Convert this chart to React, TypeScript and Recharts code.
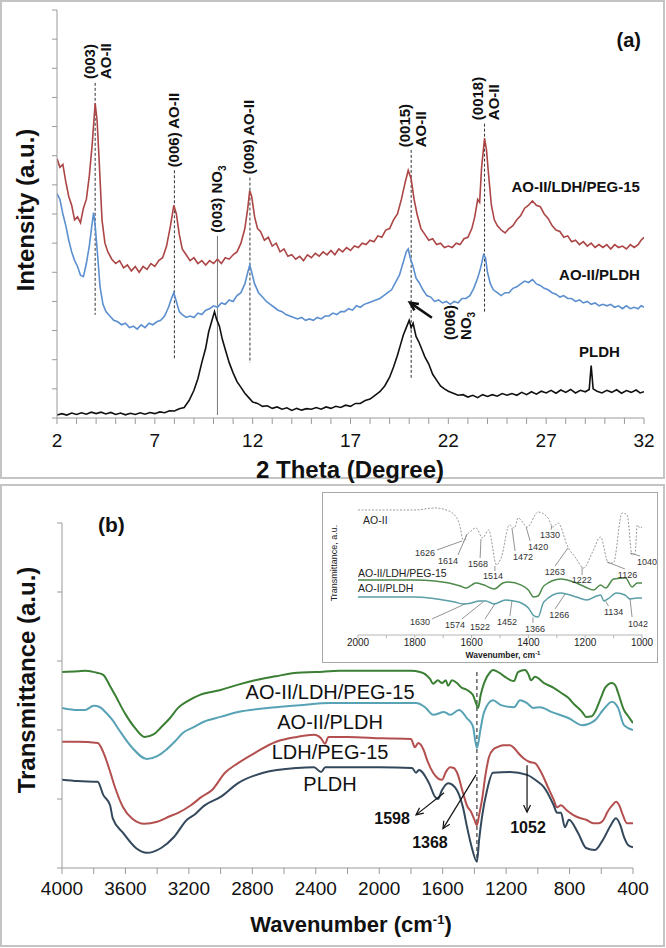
import React from 'react';
import { LineChart, Line, XAxis, YAxis, ReferenceLine, ReferenceDot } from 'recharts';

type Pt = [number, number];

const FONT = '"Liberation Sans", Arial, Helvetica, sans-serif';

// ---------- (a) XRD: 2θ (deg) vs intensity (a.u., axis 0..14) ----------
const xrdTicks = [2, 3, 4, 5, 6, 7, 8, 9, 10, 11, 12, 13, 14, 15, 16, 17, 18, 19, 20, 21, 22, 23, 24, 25, 26, 27, 28, 29, 30, 31, 32];
const xrdYTicks = [0, 1, 2, 3, 4, 5, 6, 7, 8, 9, 10, 11, 12, 13, 14];

const aoLdhPeg: Pt[] = [
  [2.0, 8.9], [2.15, 8.6], [2.3, 8.7], [2.45, 8.1], [2.6, 7.6], [2.75, 7.3], [2.9, 6.8], [3.05, 6.9], [3.2, 6.7], [3.35, 7.2],
  [3.5, 7.5], [3.65, 8.3], [3.8, 9.4], [3.95, 10.8], [4.05, 10.2], [4.15, 8.9], [4.3, 6.8], [4.45, 6.0], [4.6, 5.7], [4.8, 5.45],
  [5.0, 5.3], [5.2, 5.4], [5.4, 5.15], [5.6, 5.25], [5.8, 5.05], [6.0, 5.2], [6.2, 5.0], [6.4, 5.2], [6.6, 5.1], [6.8, 5.3],
  [7.0, 5.2], [7.2, 5.4], [7.4, 5.5], [7.6, 5.9], [7.8, 6.6], [7.97, 7.3], [8.1, 7.0], [8.25, 6.3], [8.4, 5.8], [8.6, 5.6],
  [8.8, 5.4], [9.0, 5.5], [9.2, 5.3], [9.4, 5.4], [9.6, 5.25], [9.8, 5.4], [10.0, 5.3], [10.2, 5.45], [10.4, 5.3], [10.6, 5.5],
  [10.8, 5.45], [11.0, 5.6], [11.2, 5.7], [11.4, 6.0], [11.6, 6.5], [11.75, 7.2], [11.85, 7.8], [11.95, 7.6], [12.1, 6.9], [12.25, 6.5],
  [12.4, 6.4], [12.6, 6.1], [12.8, 6.2], [13.0, 5.9], [13.2, 6.0], [13.4, 5.7], [13.6, 5.8], [13.8, 5.55], [14.0, 5.6], [14.2, 5.45],
  [14.4, 5.55], [14.6, 5.4], [14.8, 5.6], [15.0, 5.5], [15.2, 5.65], [15.4, 5.55], [15.6, 5.7], [15.8, 5.6], [16.0, 5.75], [16.2, 5.6],
  [16.4, 5.8], [16.6, 5.7], [16.8, 5.85], [17.0, 5.75], [17.2, 5.9], [17.4, 5.85], [17.6, 6.0], [17.8, 5.95], [18.0, 6.1], [18.2, 6.05],
  [18.4, 6.25], [18.6, 6.2], [18.8, 6.45], [19.0, 6.5], [19.2, 6.8], [19.4, 7.0], [19.6, 7.5], [19.8, 8.1], [19.95, 8.5], [20.1, 8.2],
  [20.25, 7.5], [20.4, 7.0], [20.6, 6.5], [20.8, 6.3], [21.0, 6.1], [21.2, 6.15], [21.4, 5.95], [21.6, 6.0], [21.8, 5.85], [22.0, 5.9],
  [22.2, 5.85], [22.4, 6.0], [22.6, 5.95], [22.8, 6.15], [23.0, 6.2], [23.2, 6.5], [23.35, 6.9], [23.5, 7.5], [23.6, 7.4], [23.7, 8.6],
  [23.85, 9.6], [23.95, 9.2], [24.05, 8.4], [24.2, 7.3], [24.35, 6.8], [24.5, 6.6], [24.7, 6.45], [24.9, 6.35], [25.1, 6.5], [25.3, 6.6],
  [25.5, 6.8], [25.7, 6.95], [25.9, 7.2], [26.1, 7.3], [26.3, 7.45], [26.5, 7.3], [26.7, 7.25], [26.9, 7.0], [27.1, 6.85], [27.3, 6.6],
  [27.5, 6.45], [27.7, 6.4], [27.9, 6.2], [28.1, 6.25], [28.3, 6.05], [28.5, 6.1], [28.7, 5.95], [28.9, 6.05], [29.1, 5.9], [29.3, 6.0],
  [29.5, 5.85], [29.7, 5.95], [29.9, 5.85], [30.1, 5.95], [30.3, 5.8], [30.5, 5.95], [30.7, 5.85], [30.9, 5.9], [31.1, 5.8], [31.3, 5.95],
  [31.5, 5.85], [31.7, 5.95], [31.85, 6.1], [32.0, 6.2],
];

const aoPldh: Pt[] = [
  [2.0, 7.7], [2.15, 7.5], [2.3, 7.0], [2.45, 6.6], [2.6, 6.1], [2.75, 5.7], [2.9, 5.4], [3.05, 5.2], [3.2, 4.9], [3.35, 4.85],
  [3.5, 5.3], [3.65, 5.9], [3.8, 6.7], [3.87, 7.05], [3.95, 6.6], [4.05, 5.8], [4.2, 4.5], [4.35, 3.9], [4.5, 3.65], [4.7, 3.5],
  [4.9, 3.35], [5.1, 3.3], [5.3, 3.2], [5.5, 3.25], [5.7, 3.1], [5.9, 3.15], [6.1, 3.05], [6.3, 3.2], [6.5, 3.1], [6.7, 3.25],
  [6.9, 3.2], [7.1, 3.3], [7.3, 3.35], [7.5, 3.5], [7.7, 3.8], [7.85, 4.1], [7.97, 4.3], [8.1, 4.0], [8.25, 3.65], [8.4, 3.55],
  [8.6, 3.45], [8.8, 3.5], [9.0, 3.45], [9.2, 3.6], [9.4, 3.55], [9.6, 3.7], [9.8, 3.75], [10.0, 3.85], [10.2, 3.8], [10.4, 3.95],
  [10.6, 3.9], [10.8, 4.05], [11.0, 4.0], [11.2, 4.2], [11.4, 4.3], [11.6, 4.6], [11.75, 5.0], [11.85, 5.25], [11.95, 5.0], [12.1, 4.6],
  [12.3, 4.3], [12.5, 4.15], [12.7, 4.0], [12.9, 3.9], [13.1, 3.8], [13.3, 3.7], [13.5, 3.65], [13.7, 3.55], [13.9, 3.5], [14.1, 3.45],
  [14.3, 3.4], [14.5, 3.45], [14.7, 3.35], [14.9, 3.4], [15.1, 3.35], [15.3, 3.45], [15.5, 3.4], [15.7, 3.5], [15.9, 3.5], [16.1, 3.6],
  [16.3, 3.55], [16.5, 3.65], [16.7, 3.65], [16.9, 3.75], [17.1, 3.7], [17.3, 3.85], [17.5, 3.8], [17.7, 3.9], [17.9, 3.95], [18.1, 4.0],
  [18.3, 4.05], [18.5, 4.1], [18.7, 4.2], [18.9, 4.3], [19.1, 4.4], [19.3, 4.65], [19.5, 4.9], [19.7, 5.35], [19.85, 5.7], [19.95, 5.8],
  [20.05, 5.5], [20.2, 5.2], [20.35, 4.8], [20.5, 4.65], [20.7, 4.4], [20.9, 4.2], [21.1, 4.15], [21.3, 4.0], [21.5, 4.05], [21.7, 3.95],
  [21.9, 4.0], [22.1, 3.9], [22.3, 4.0], [22.5, 3.95], [22.7, 4.1], [22.9, 4.1], [23.1, 4.2], [23.3, 4.45], [23.5, 4.8], [23.65, 5.15],
  [23.8, 5.6], [23.9, 5.5], [24.0, 5.0], [24.15, 4.6], [24.3, 4.4], [24.5, 4.3], [24.7, 4.2], [24.9, 4.3], [25.1, 4.3], [25.3, 4.45],
  [25.5, 4.5], [25.7, 4.6], [25.9, 4.7], [26.1, 4.65], [26.3, 4.75], [26.5, 4.6], [26.7, 4.55], [26.9, 4.45], [27.1, 4.4], [27.3, 4.3],
  [27.5, 4.25], [27.7, 4.15], [27.9, 4.2], [28.1, 4.1], [28.3, 4.1], [28.5, 4.0], [28.7, 4.05], [28.9, 3.95], [29.1, 4.0], [29.3, 3.9],
  [29.5, 3.95], [29.7, 3.85], [29.9, 3.9], [30.1, 3.85], [30.3, 3.9], [30.5, 3.8], [30.7, 3.85], [30.9, 3.75], [31.1, 3.85], [31.3, 3.75],
  [31.5, 3.8], [31.7, 3.75], [31.85, 3.85], [32.0, 3.8],
];

const pldhXrd: Pt[] = [
  [2.0, 0.1], [2.25, 0.15], [2.5, 0.1], [2.75, 0.17], [3.0, 0.12], [3.25, 0.18], [3.5, 0.13], [3.75, 0.2], [4.0, 0.15], [4.25, 0.2],
  [4.5, 0.14], [4.75, 0.19], [5.0, 0.12], [5.25, 0.17], [5.5, 0.11], [5.75, 0.16], [6.0, 0.12], [6.25, 0.18], [6.5, 0.13], [6.75, 0.19],
  [7.0, 0.15], [7.25, 0.21], [7.5, 0.18], [7.75, 0.25], [8.0, 0.24], [8.25, 0.32], [8.5, 0.36], [8.75, 0.6], [9.0, 0.95], [9.2, 1.35],
  [9.4, 1.9], [9.6, 2.4], [9.75, 2.95], [9.9, 3.3], [10.05, 3.65], [10.15, 3.4], [10.3, 3.15], [10.45, 2.7], [10.6, 2.35], [10.8, 1.9],
  [11.0, 1.55], [11.2, 1.25], [11.4, 1.05], [11.6, 0.85], [11.8, 0.7], [12.0, 0.55], [12.25, 0.5], [12.5, 0.4], [12.75, 0.42], [13.0, 0.33],
  [13.25, 0.38], [13.5, 0.3], [13.75, 0.35], [14.0, 0.26], [14.25, 0.33], [14.5, 0.27], [14.75, 0.32], [15.0, 0.3], [15.25, 0.36], [15.5, 0.3],
  [15.75, 0.38], [16.0, 0.33], [16.25, 0.4], [16.5, 0.36], [16.75, 0.44], [17.0, 0.4], [17.25, 0.5], [17.5, 0.5], [17.75, 0.6], [18.0, 0.65],
  [18.25, 0.78], [18.5, 0.9], [18.75, 1.1], [19.0, 1.4], [19.2, 1.75], [19.4, 2.15], [19.55, 2.5], [19.7, 2.85], [19.85, 3.1], [20.0, 3.35],
  [20.1, 3.1], [20.2, 3.25], [20.35, 2.8], [20.5, 2.6], [20.65, 2.35], [20.8, 2.1], [21.0, 1.85], [21.2, 1.5], [21.4, 1.3], [21.6, 1.1],
  [21.8, 1.0], [22.0, 0.92], [22.25, 0.85], [22.5, 0.78], [22.75, 0.8], [23.0, 0.72], [23.25, 0.78], [23.5, 0.7], [23.75, 0.8], [24.0, 0.74],
  [24.25, 0.8], [24.5, 0.75], [24.75, 0.84], [25.0, 0.78], [25.25, 0.84], [25.5, 0.78], [25.75, 0.88], [26.0, 0.8], [26.25, 0.9], [26.5, 0.82],
  [26.75, 0.92], [27.0, 0.86], [27.25, 0.95], [27.5, 0.85], [27.75, 0.96], [28.0, 0.88], [28.25, 0.98], [28.5, 0.86], [28.75, 0.95], [29.0, 0.9],
  [29.2, 0.98], [29.3, 1.8], [29.4, 1.0], [29.6, 0.92], [29.85, 0.86], [30.1, 0.95], [30.35, 0.88], [30.6, 0.97], [30.85, 0.85], [31.1, 0.94],
  [31.35, 0.88], [31.6, 0.96], [31.8, 0.86], [32.0, 0.9],
];

// guide lines: x, top, bottom (data units)
const xrdGuides = [
  { x: 3.95, top: 11.5, bottom: 3.54 },
  { x: 8.0, top: 8.5, bottom: 2.0 },
  { x: 11.86, top: 8.25, bottom: 1.89 },
  { x: 20.1, top: 9.2, bottom: 1.38 },
  { x: 23.85, top: 10.1, bottom: 3.65 },
];
const no3Guide = { x: 10.2, top: 6.25, bottom: 0.1 };

// '_' marks a subscript
const xrdPeakLabels = [
  { x: 3.94, y: 11.63, lines: ['(003)', 'AO-II'] },
  { x: 8.23, y: 8.6, lines: ['(006) AO-II'] },
  { x: 10.43, y: 6.36, lines: ['(003) NO_3'] },
  { x: 12.07, y: 8.36, lines: ['(009) AO-II'] },
  { x: 20.04, y: 9.29, lines: ['(0015)', 'AO-II'] },
  { x: 23.77, y: 10.22, lines: ['(0018)', 'AO-II'] },
  { x: 22.34, y: 2.68, lines: ['(006)', 'NO_3'] },
];
const xrdSeriesLabels = [
  { x: 31.79, y: 7.77, text: 'AO-II/LDH/PEG-15' },
  { x: 31.79, y: 4.75, text: 'AO-II/PLDH' },
  { x: 30.77, y: 2.1, text: 'PLDH' },
];
const xrdArrow = { from: { x: 21.16, y: 3.44 }, to: { x: 20.04, y: 3.96 } };

// ---------- (b) FTIR: wavenumber vs transmittance (a.u., axis 0..5) ----------
const ftirTicks = [4000, 3800, 3600, 3400, 3200, 3000, 2800, 2600, 2400, 2200, 2000, 1800, 1600, 1400, 1200, 1000, 800, 600, 400];
const ftirYTicks = [0, 1, 2, 3, 4, 5];

const ftirAoLdhPeg: Pt[] = [
  [4000, 2.84], [3900, 2.85], [3850, 2.86], [3780, 2.83], [3740, 2.8], [3700, 2.65], [3666, 2.51], [3600, 2.23], [3540, 2.03], [3480, 1.9],
  [3420, 1.94], [3375, 2.04], [3320, 2.17], [3268, 2.32], [3200, 2.43], [3130, 2.51], [3000, 2.58], [2900, 2.65], [2783, 2.72], [2650, 2.78],
  [2518, 2.83], [2400, 2.84], [2247, 2.86], [2000, 2.86], [1800, 2.86], [1743, 2.84], [1711, 2.81], [1680, 2.74], [1660, 2.67], [1630, 2.72],
  [1604, 2.68], [1580, 2.72], [1566, 2.64], [1541, 2.72], [1510, 2.68], [1484, 2.62], [1446, 2.58], [1410, 2.51], [1390, 2.39], [1377, 2.32],
  [1360, 2.51], [1339, 2.68], [1300, 2.84], [1283, 2.87], [1244, 2.83], [1207, 2.77], [1170, 2.72], [1150, 2.71], [1125, 2.84], [1081, 2.87],
  [1060, 2.81], [1043, 2.72], [1018, 2.77], [961, 2.68], [900, 2.61], [854, 2.54], [800, 2.45], [778, 2.39], [720, 2.26], [696, 2.19],
  [660, 2.2], [640, 2.26], [600, 2.48], [576, 2.61], [532, 2.68], [510, 2.64], [494, 2.54], [457, 2.29], [430, 2.2], [400, 2.1],
];

const ftirAoPldh: Pt[] = [
  [4000, 2.32], [3900, 2.29], [3855, 2.29], [3800, 2.35], [3760, 2.33], [3722, 2.25], [3680, 2.14], [3640, 2.0], [3560, 1.75], [3465, 1.58],
  [3400, 1.62], [3345, 1.71], [3290, 1.83], [3237, 1.96], [3170, 2.04], [3105, 2.12], [3000, 2.19], [2890, 2.26], [2650, 2.33], [2500, 2.36],
  [2303, 2.39], [2000, 2.39], [1768, 2.39], [1711, 2.33], [1660, 2.22], [1591, 2.26], [1553, 2.22], [1497, 2.29], [1446, 2.17], [1410, 2.06],
  [1384, 1.74], [1360, 2.03], [1339, 2.26], [1283, 2.43], [1232, 2.36], [1150, 2.33], [1112, 2.43], [1068, 2.39], [1030, 2.32], [986, 2.33],
  [911, 2.26], [804, 2.17], [722, 2.07], [640, 2.14], [589, 2.29], [532, 2.41], [494, 2.32], [457, 2.07], [400, 2.0],
];

const ftirLdhPeg: Pt[] = [
  [4000, 1.83], [3900, 1.83], [3775, 1.81], [3740, 1.68], [3700, 1.42], [3666, 1.17], [3615, 0.88], [3560, 0.72], [3480, 0.64], [3400, 0.67],
  [3320, 0.75], [3268, 0.8], [3187, 0.91], [3120, 1.03], [3054, 1.13], [2972, 1.38], [2890, 1.52], [2783, 1.67], [2650, 1.83], [2518, 1.9],
  [2411, 1.93], [2367, 1.88], [2342, 1.8], [2320, 1.9], [2200, 1.9], [1982, 1.88], [1800, 1.87], [1775, 1.75], [1755, 1.81], [1720, 1.71],
  [1699, 1.57], [1660, 1.38], [1630, 1.3], [1604, 1.28], [1580, 1.39], [1553, 1.46], [1530, 1.45], [1509, 1.38], [1472, 1.09], [1446, 0.9],
  [1420, 0.81], [1400, 0.7], [1384, 0.62], [1370, 0.77], [1352, 0.99], [1330, 1.35], [1308, 1.61], [1280, 1.72], [1257, 1.75], [1220, 1.78],
  [1175, 1.78], [1150, 1.74], [1125, 1.67], [1090, 1.59], [1055, 1.54], [1018, 1.52], [980, 1.39], [936, 1.17], [900, 0.99], [879, 0.88],
  [854, 0.91], [820, 0.84], [778, 0.77], [730, 0.72], [696, 0.7], [650, 0.65], [614, 0.65], [580, 0.72], [564, 0.8], [530, 0.91],
  [507, 0.96], [485, 0.9], [469, 0.8], [438, 0.65], [400, 0.65],
];

const ftirPldh: Pt[] = [
  [4000, 1.28], [3900, 1.26], [3775, 1.25], [3740, 1.06], [3697, 0.91], [3680, 0.72], [3615, 0.51], [3534, 0.29], [3465, 0.22], [3375, 0.29],
  [3294, 0.45], [3212, 0.7], [3161, 0.78], [3105, 0.9], [3000, 1.03], [2890, 1.23], [2731, 1.38], [2518, 1.45], [2411, 1.46], [2367, 1.39],
  [2340, 1.46], [2000, 1.46], [1793, 1.45], [1768, 1.38], [1750, 1.42], [1686, 1.23], [1648, 1.03], [1630, 1.0], [1604, 1.13], [1566, 1.23],
  [1522, 1.17], [1472, 0.88], [1446, 0.59], [1420, 0.33], [1384, 0.09], [1370, 0.41], [1352, 0.74], [1320, 1.13], [1283, 1.38], [1175, 1.39],
  [1068, 1.35], [1000, 1.25], [961, 1.17], [900, 0.91], [879, 0.8], [854, 0.8], [829, 0.59], [804, 0.7], [747, 0.51], [696, 0.29],
  [640, 0.26], [589, 0.41], [540, 0.62], [507, 0.72], [480, 0.62], [457, 0.45], [430, 0.33], [400, 0.3],
];

const ftirGuide = { x: 1384, top: 2.84, bottom: 0.09 };
const ftirSeriesLabels = [
  { x: 2310, y: 2.45, text: 'AO-II/LDH/PEG-15' },
  { x: 2310, y: 2.01, text: 'AO-II/PLDH' },
  { x: 2310, y: 1.58, text: 'LDH/PEG-15' },
  { x: 2310, y: 1.12, text: 'PLDH' },
];
const ftirCallouts = [
  { text: '1598', x: 1919, y: 0.64, from: { x: 1591, y: 1.09 }, to: { x: 1768, y: 0.77 } },
  { text: '1368', x: 1680, y: 0.29, from: { x: 1390, y: 1.35 }, to: { x: 1598, y: 0.57 } },
  { text: '1052', x: 1062, y: 0.51, from: { x: 1068, y: 1.49 }, to: { x: 1068, y: 0.81 } },
];

// ---------- inset: 2000..1000 cm-1 (axis 0..10) ----------
const insetTicks = [2000, 1900, 1800, 1700, 1600, 1500, 1400, 1300, 1200, 1100, 1000];

const insetAo: Pt[] = [
  [2000, 9.26], [1900, 9.26], [1800, 9.26], [1730, 9.41], [1680, 9.19], [1645, 8.37], [1627, 6.89], [1617, 7.41], [1606, 7.63], [1585, 7.93],
  [1561, 7.19], [1540, 7.78], [1512, 5.19], [1495, 5.78], [1467, 8.15], [1449, 7.93], [1436, 8.67], [1404, 8.0], [1366, 9.11], [1331, 8.67],
  [1314, 8.0], [1296, 8.3], [1261, 6.52], [1233, 5.7], [1206, 4.96], [1174, 6.15], [1146, 7.26], [1118, 5.33], [1101, 5.33], [1070, 9.04],
  [1052, 8.89], [1035, 5.93], [1024, 6.07], [1017, 8.15], [1007, 7.93], [1000, 8.0],
];
const insetAoLdhPeg: Pt[] = [
  [2000, 4.07], [1900, 4.07], [1800, 4.07], [1730, 4.0], [1680, 3.85], [1640, 3.63], [1620, 3.48], [1600, 3.7], [1585, 3.85], [1556, 3.7],
  [1520, 3.41], [1490, 3.85], [1470, 3.93], [1425, 3.7], [1400, 3.33], [1382, 2.81], [1366, 2.89], [1346, 3.63], [1286, 4.15], [1240, 3.93],
  [1200, 3.56], [1170, 3.33], [1146, 3.7], [1128, 3.48], [1100, 4.15], [1058, 4.22], [1035, 3.56], [1017, 3.85], [1000, 3.85],
];
const insetAoPldh: Pt[] = [
  [2000, 2.81], [1900, 2.81], [1800, 2.81], [1750, 2.74], [1700, 2.59], [1660, 2.44], [1630, 2.3], [1600, 2.37], [1574, 2.52], [1550, 2.52],
  [1522, 2.3], [1480, 2.59], [1452, 2.52], [1425, 2.37], [1400, 2.0], [1380, 1.41], [1366, 1.33], [1346, 2.44], [1286, 3.11], [1266, 3.04],
  [1230, 2.81], [1195, 2.59], [1160, 2.89], [1146, 2.96], [1134, 2.52], [1120, 2.67], [1090, 3.11], [1060, 2.96], [1042, 2.67], [1017, 2.74],
  [1000, 2.74],
];
const insetSeriesLabels = [
  { x: 1982, y: 8.22, text: 'AO-II' },
  { x: 2000, y: 4.3, text: 'AO-II/LDH/PEG-15' },
  { x: 2000, y: 3.19, text: 'AO-II/PLDH' },
];
// label position + leader line (from -> to)
const insetPeaks = [
  { text: '1626', x: 1799, y: 5.85, from: { x: 1722, y: 6.3 }, to: { x: 1634, y: 6.96 } },
  { text: '1614', x: 1718, y: 5.26, from: { x: 1648, y: 5.93 }, to: { x: 1616, y: 7.48 } },
  { text: '1568', x: 1613, y: 5.04, from: { x: 1570, y: 5.7 }, to: { x: 1567, y: 7.11 } },
  { text: '1514', x: 1560, y: 4.15, from: { x: 1518, y: 4.74 }, to: { x: 1518, y: 5.11 } },
  { text: '1472', x: 1454, y: 5.56, from: { x: 1447, y: 6.22 }, to: { x: 1458, y: 7.93 } },
  { text: '1420', x: 1401, y: 6.3, from: { x: 1394, y: 6.96 }, to: { x: 1408, y: 8.0 } },
  { text: '1330', x: 1359, y: 7.19, from: { x: 1320, y: 7.8 }, to: { x: 1318, y: 8.1 } },
  { text: '1263', x: 1342, y: 4.44, from: { x: 1306, y: 5.11 }, to: { x: 1261, y: 6.44 } },
  { text: '1222', x: 1247, y: 3.85, from: { x: 1211, y: 4.44 }, to: { x: 1211, y: 5.04 } },
  { text: '1126', x: 1085, y: 4.22, from: { x: 1060, y: 4.89 }, to: { x: 1123, y: 5.41 } },
  { text: '1040', x: 1018, y: 5.19, from: { x: 1007, y: 5.85 }, to: { x: 1042, y: 6.07 } },
  { text: '1630', x: 1817, y: 0.74, from: { x: 1739, y: 1.19 }, to: { x: 1623, y: 2.3 } },
  { text: '1574', x: 1694, y: 0.52, from: { x: 1634, y: 1.19 }, to: { x: 1560, y: 2.44 } },
  { text: '1522', x: 1606, y: 0.37, from: { x: 1553, y: 1.19 }, to: { x: 1518, y: 2.3 } },
  { text: '1452', x: 1511, y: 0.74, from: { x: 1465, y: 1.41 }, to: { x: 1458, y: 2.52 } },
  { text: '1366', x: 1412, y: 0.22, from: { x: 1384, y: 0.9 }, to: { x: 1384, y: 1.3 } },
  { text: '1266', x: 1327, y: 1.26, from: { x: 1306, y: 1.93 }, to: { x: 1271, y: 3.04 } },
  { text: '1134', x: 1134, y: 1.48, from: { x: 1118, y: 2.15 }, to: { x: 1128, y: 2.5 } },
  { text: '1042', x: 1049, y: 0.59, from: { x: 1035, y: 1.33 }, to: { x: 1042, y: 2.67 } },
];

const rows = (pts: Pt[]) => pts.map(([x, y]) => ({ x, y }));

function VLabel({ cx, cy, lines }: { cx: number; cy: number; lines: string[] }) {
  return (
    <g transform={`translate(${cx},${cy}) rotate(-90)`}>
      {lines.map((ln, i) => {
        const [main, sub] = ln.split('_');
        return (
          <text key={i} x={0} y={i * 16} fontSize={15} fontWeight="bold" fill="#111">
            {main}
            {sub && <tspan dy={4} fontSize={10}>{sub}</tspan>}
          </text>
        );
      })}
    </g>
  );
}

const arrowShape = (width: number, head: number) => (p: any) => {
  const { x1, y1, x2, y2 } = p;
  const a = Math.atan2(y2 - y1, x2 - x1);
  const lx = x2 - head * Math.cos(a - 0.45);
  const ly = y2 - head * Math.sin(a - 0.45);
  const rx = x2 - head * Math.cos(a + 0.45);
  const ry = y2 - head * Math.sin(a + 0.45);
  return (
    <g>
      <line x1={x1} y1={y1} x2={x2} y2={y2} stroke="#111" strokeWidth={width} />
      <polyline points={`${lx},${ly} ${x2},${y2} ${rx},${ry}`} fill="none" stroke="#111" strokeWidth={width} />
    </g>
  );
};

const axisGray = '#9a9a9a';

export default function App() {
  return (
    <div style={{ position: 'absolute', left: 0, top: 0, width: 666, height: 948, background: '#fff', fontFamily: FONT }}>
      {/* panel frames */}
      <svg width={666} height={948} style={{ position: 'absolute', left: 0, top: 0 }}>
        <rect x={1} y={1} width={663} height={477} fill="none" stroke="#c4c4c4" strokeWidth={2} />
        <rect x={1} y={485} width={663} height={461} fill="none" stroke="#c4c4c4" strokeWidth={2} />
      </svg>

      {/* (a) XRD */}
      <div style={{ position: 'absolute', left: 0, top: 0 }}>
        <LineChart width={666} height={480} margin={{ top: 10, right: 22, bottom: 32, left: 47 }}>
          <XAxis
            dataKey="x" type="number" domain={[2, 32]} ticks={xrdTicks} interval={0} allowDataOverflow
            tickFormatter={(v: number) => ((v - 2) % 5 === 0 ? String(v) : '')}
            stroke={axisGray} tick={{ fill: '#111', fontSize: 19 }} tickSize={6} tickMargin={10}
          />
          <YAxis
            type="number" domain={[0, 14]} ticks={xrdYTicks} interval={0} width={10}
            tickFormatter={() => ''} stroke={axisGray} tickSize={5}
          />
          {xrdGuides.map((g, i) => (
            <ReferenceLine key={`g${i}`} segment={[{ x: g.x, y: g.top }, { x: g.x, y: g.bottom }]} stroke="#333" strokeWidth={1} strokeDasharray="3 2" />
          ))}
          <ReferenceLine segment={[{ x: no3Guide.x, y: no3Guide.top }, { x: no3Guide.x, y: no3Guide.bottom }]} stroke="#555" strokeWidth={0.8} />
          <Line data={rows(aoLdhPeg)} dataKey="y" type="linear" stroke="#ac4545" strokeWidth={1.6} dot={false} activeDot={false} isAnimationActive={false} />
          <Line data={rows(aoPldh)} dataKey="y" type="linear" stroke="#5b8fcf" strokeWidth={1.6} dot={false} activeDot={false} isAnimationActive={false} />
          <Line data={rows(pldhXrd)} dataKey="y" type="linear" stroke="#111" strokeWidth={1.6} dot={false} activeDot={false} isAnimationActive={false} />
          {xrdPeakLabels.map((l, i) => (
            <ReferenceDot key={`p${i}`} x={l.x} y={l.y} r={0} shape={(p: any) => <VLabel cx={p.cx} cy={p.cy} lines={l.lines} />} />
          ))}
          {xrdSeriesLabels.map((l, i) => (
            <ReferenceDot
              key={`s${i}`} x={l.x} y={l.y} r={0}
              shape={(p: any) => <text x={p.cx} y={p.cy} textAnchor="end" fontSize={15} fontWeight="bold" fill="#111">{l.text}</text>}
            />
          ))}
          <ReferenceLine segment={[xrdArrow.from, xrdArrow.to]} shape={arrowShape(2.6, 9)} />
        </LineChart>
      </div>

      {/* (b) FTIR */}
      <div style={{ position: 'absolute', left: 0, top: 500 }}>
        <LineChart width={666} height={420} margin={{ top: 23, right: 33, bottom: 22, left: 52 }}>
          <XAxis
            dataKey="x" type="number" domain={[400, 4000]} reversed ticks={ftirTicks} interval={0} allowDataOverflow
            tickFormatter={(v: number) => (v % 400 === 0 ? String(v) : '')}
            stroke={axisGray} tick={{ fill: '#111', fontSize: 19 }} tickSize={6} tickMargin={8}
          />
          <YAxis
            type="number" domain={[0, 5]} ticks={ftirYTicks} interval={0} width={10}
            tickFormatter={() => ''} stroke={axisGray} tickSize={5}
          />
          <ReferenceLine segment={[{ x: ftirGuide.x, y: ftirGuide.top }, { x: ftirGuide.x, y: ftirGuide.bottom }]} stroke="#111" strokeWidth={1} strokeDasharray="4 3" />
          <Line data={rows(ftirAoLdhPeg)} dataKey="y" type="monotone" stroke="#3a7f34" strokeWidth={2} dot={false} activeDot={false} isAnimationActive={false} />
          <Line data={rows(ftirAoPldh)} dataKey="y" type="monotone" stroke="#57a2b5" strokeWidth={2} dot={false} activeDot={false} isAnimationActive={false} />
          <Line data={rows(ftirLdhPeg)} dataKey="y" type="monotone" stroke="#b3504f" strokeWidth={2} dot={false} activeDot={false} isAnimationActive={false} />
          <Line data={rows(ftirPldh)} dataKey="y" type="monotone" stroke="#34485c" strokeWidth={2} dot={false} activeDot={false} isAnimationActive={false} />
          {ftirSeriesLabels.map((l, i) => (
            <ReferenceDot
              key={`s${i}`} x={l.x} y={l.y} r={0}
              shape={(p: any) => <text x={p.cx} y={p.cy} textAnchor="middle" fontSize={20} fill="#111">{l.text}</text>}
            />
          ))}
          {ftirCallouts.map((c, i) => (
            <ReferenceLine key={`a${i}`} segment={[c.from, c.to]} shape={arrowShape(1.2, 8)} />
          ))}
          {ftirCallouts.map((c, i) => (
            <ReferenceDot
              key={`c${i}`} x={c.x} y={c.y} r={0}
              shape={(p: any) => <text x={p.cx} y={p.cy} textAnchor="middle" fontSize={16} fontWeight="bold" fill="#111">{c.text}</text>}
            />
          ))}
        </LineChart>
      </div>

      {/* inset */}
      <div style={{ position: 'absolute', left: 322, top: 492, width: 334, height: 169, border: '1px solid #a8a8a8', background: '#fff' }}>
        <LineChart width={334} height={169} margin={{ top: 7, right: 15, bottom: 7, left: 35 }}>
          <XAxis
            dataKey="x" type="number" domain={[1000, 2000]} reversed ticks={insetTicks} interval={0} allowDataOverflow height={20}
            tickFormatter={(v: number) => (v % 200 === 0 ? String(v) : '')}
            stroke="#b5b5b5" tick={{ fill: '#222', fontSize: 10 }} tickSize={3} tickMargin={1}
          />
          <YAxis hide type="number" domain={[0, 10]} />
          <Line data={rows(insetAo)} dataKey="y" type="monotone" stroke="#9a9a9a" strokeWidth={1} strokeDasharray="2 1.5" dot={false} activeDot={false} isAnimationActive={false} />
          <Line data={rows(insetAoLdhPeg)} dataKey="y" type="monotone" stroke="#4f8a4c" strokeWidth={1.5} dot={false} activeDot={false} isAnimationActive={false} />
          <Line data={rows(insetAoPldh)} dataKey="y" type="monotone" stroke="#5a9ea6" strokeWidth={1.5} dot={false} activeDot={false} isAnimationActive={false} />
          {insetPeaks.map((c, i) => (
            <ReferenceLine key={`l${i}`} segment={[c.from, c.to]} stroke="#777" strokeWidth={0.8} />
          ))}
          {insetPeaks.map((c, i) => (
            <ReferenceDot
              key={`t${i}`} x={c.x} y={c.y} r={0}
              shape={(p: any) => <text x={p.cx} y={p.cy} fontSize={9} fill="#333">{c.text}</text>}
            />
          ))}
          {insetSeriesLabels.map((l, i) => (
            <ReferenceDot
              key={`s${i}`} x={l.x} y={l.y} r={0}
              shape={(p: any) => <text x={p.cx} y={p.cy} fontSize={10.5} fill="#222">{l.text}</text>}
            />
          ))}
        </LineChart>
      </div>

      {/* titles */}
      <svg width={666} height={948} style={{ position: 'absolute', left: 0, top: 0, pointerEvents: 'none' }}>
        <text x={641} y={47} textAnchor="end" fontSize={20} fontWeight="bold" fill="#111">(a)</text>
        <text transform="translate(34,210) rotate(-90)" textAnchor="middle" fontSize={24} fontWeight="bold" fill="#111">Intensity (a.u.)</text>
        <text x={350} y={478} textAnchor="middle" fontSize={24} fontWeight="bold" fill="#111">2 Theta (Degree)</text>
        <text x={98} y={532} fontSize={21} fontWeight="bold" fill="#111">(b)</text>
        <text transform="translate(35,680) rotate(-90)" textAnchor="middle" fontSize={24} fontWeight="bold" fill="#111">Transmittance (a.u.)</text>
        <text x={351} y={932} textAnchor="middle" fontSize={22} fontWeight="bold" fill="#111">
          Wavenumber (cm<tspan dy={-8} fontSize={13}>-1</tspan><tspan dy={8}>)</tspan>
        </text>
        <text x={503} y={658} textAnchor="middle" fontSize={8.5} fontWeight="bold" fill="#222">
          Wavenumber, cm<tspan dy={-3} fontSize={6}>-1</tspan>
        </text>
        <text transform="translate(337,563) rotate(-90)" textAnchor="middle" fontSize={9} fill="#222">Transmittance, a.u.</text>
      </svg>
    </div>
  );
}
